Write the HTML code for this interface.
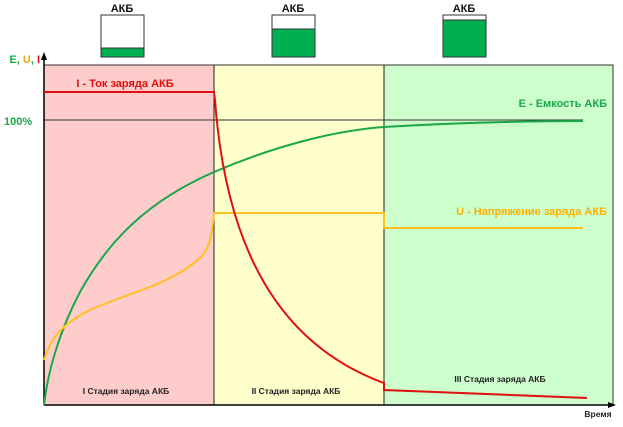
<!DOCTYPE html>
<html><head><meta charset="utf-8"><style>body{margin:0;background:#fff}</style></head><body>
<svg width="623" height="422" viewBox="0 0 623 422" xmlns="http://www.w3.org/2000/svg" font-family="Liberation Sans, sans-serif" font-weight="bold">
<rect x="44" y="65" width="170" height="340" fill="#ffcccc"/>
<rect x="214" y="65" width="170" height="340" fill="#ffffcc"/>
<rect x="384" y="65" width="229" height="340" fill="#ccffcc"/>
<rect x="44" y="65" width="569" height="340" fill="none" stroke="#333" stroke-width="1"/>
<line x1="214" y1="65" x2="214" y2="405" stroke="#222"/>
<line x1="384" y1="65" x2="384" y2="405" stroke="#222"/>
<line x1="44" y1="120" x2="583" y2="120" stroke="#333"/>
<line x1="44" y1="405" x2="44" y2="58" stroke="#000" stroke-width="1.5"/>
<polygon points="44,52 41,60 47,60" fill="#000"/>
<line x1="44" y1="405" x2="610" y2="405" stroke="#000" stroke-width="1.5"/>
<polygon points="616,405 608,402 608,408" fill="#000"/>
<g stroke="#333" stroke-width="1">
<rect x="101" y="15" width="43" height="42" fill="#fff"/><rect x="101" y="48" width="43" height="9" fill="#00b050"/>
<rect x="272" y="15" width="43" height="42" fill="#fff"/><rect x="272" y="29" width="43" height="28" fill="#00b050"/>
<rect x="443" y="15" width="43" height="42" fill="#fff"/><rect x="443" y="20" width="43" height="37" fill="#00b050"/>
</g>
<g font-size="11" text-anchor="middle" fill="#111">
<text x="122" y="12">АКБ</text><text x="293" y="12">АКБ</text><text x="464" y="12">АКБ</text>
</g>
<path d="M44,405 C48,370 60,330 80,292 C110,238 150,200 214,172 C270,148 330,131 384,127 C450,123 520,121 583,121" fill="none" stroke="#1aa64a" stroke-width="2"/>
<path d="M44,360 C50,340 60,325 90,310 C130,292 170,285 200,258 C210,248 212,235 214,213 L384,213 L384,228 L583,228" fill="none" stroke="#ffc020" stroke-width="2"/>
<path d="M44,92 L214,92 L215,100 C226,250 280,345 384,383 L384,390 L587,398" fill="none" stroke="#e01010" stroke-width="2"/>
<text x="40" y="63" font-size="11" text-anchor="end"><tspan fill="#1aa64a">E</tspan><tspan fill="#1aa64a">, </tspan><tspan fill="#e8b000">U</tspan><tspan fill="#1aa64a">, </tspan><tspan fill="#e01010">I</tspan></text>
<text x="4" y="125" font-size="11" fill="#1aa64a">100%</text>
<text x="125" y="87" font-size="11" fill="#e01010" text-anchor="middle">I - Ток заряда АКБ</text>
<text x="607" y="107" font-size="11" fill="#1aa64a" text-anchor="end">E - Емкость АКБ</text>
<text x="607" y="215" font-size="11" fill="#ffb000" text-anchor="end">U - Напряжение заряда АКБ</text>
<g font-size="8.5" fill="#222" text-anchor="middle">
<text x="126" y="394">I Стадия заряда АКБ</text>
<text x="296" y="394">II Стадия заряда АКБ</text>
<text x="500" y="382">III Стадия заряда АКБ</text>
<text x="598" y="417">Время</text>
</g>
</svg>
</body></html>
